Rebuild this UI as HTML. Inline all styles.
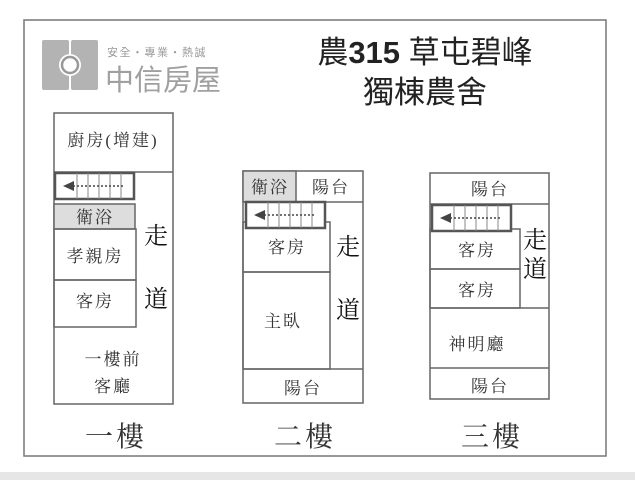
<!DOCTYPE html>
<html><head><meta charset="utf-8"><style>
body{margin:0;width:635px;height:480px;background:#fff;overflow:hidden}
text{font-family:"Liberation Serif","Noto Serif CJK SC",serif;fill:#333}
</style></head><body>
<svg width="635" height="480" xmlns="http://www.w3.org/2000/svg">
<defs>
<g id="st">
<rect x="0" y="0" width="79" height="26" fill="#fff" stroke="#555" stroke-width="2.5"/>
<g stroke="#888" stroke-width="1">
<line x1="22" y1="0" x2="22" y2="26"/><line x1="33" y1="0" x2="33" y2="26"/><line x1="44" y1="0" x2="44" y2="26"/><line x1="55" y1="0" x2="55" y2="26"/><line x1="66" y1="0" x2="66" y2="26"/>
</g>
<line x1="18" y1="13" x2="70" y2="13" stroke="#444" stroke-width="1.5" stroke-dasharray="2,2"/>
<polygon points="8,13 19,8 19,18" fill="#444"/>
</g>
</defs>
<rect x="0" y="472" width="635" height="8" fill="#e6e6e6"/>
<rect x="24" y="20" width="582" height="436" fill="#fff" stroke="#777" stroke-width="1.5"/>
<!-- logo -->
<rect x="42" y="40" width="27" height="50" fill="#b3b3b3" rx="2"/>
<rect x="71" y="40" width="27" height="50" fill="#b3b3b3" rx="2"/>
<rect x="60" y="58" width="20" height="14" fill="#b3b3b3"/>
<circle cx="70" cy="65" r="11" fill="#fff"/>
<circle cx="70" cy="65" r="8" fill="none" stroke="#999" stroke-width="2.5"/>
<text x="107" y="56" font-size="11" style="font-family:'Liberation Sans','Noto Sans CJK TC',sans-serif;fill:#999" letter-spacing="1.5">安全・專業・熱誠</text>
<text x="105" y="90" font-size="29" style="font-family:'Liberation Sans','Noto Sans CJK TC',sans-serif;fill:#a0a0a0">中信房屋</text>
<text x="425" y="63" font-size="31" text-anchor="middle" style="font-family:'Liberation Sans','Noto Sans CJK TC',sans-serif;fill:#222">農<tspan font-weight="bold">315</tspan> 草屯碧峰</text>
<text x="425" y="103" font-size="31" text-anchor="middle" style="font-family:'Liberation Sans','Noto Sans CJK TC',sans-serif;fill:#222">獨棟農舍</text>
<g fill="none" stroke="#666" stroke-width="1.5">
<rect x="54" y="113" width="119" height="291"/>
<line x1="54" y1="172" x2="173" y2="172"/>
<rect x="54" y="204" width="81" height="25" fill="#ddd"/>
<rect x="54" y="229" width="82" height="51"/>
<rect x="54" y="280" width="82" height="47"/>
<rect x="243" y="171" width="120" height="232"/>
<rect x="243" y="171" width="53" height="31" fill="#ddd"/>
<line x1="243" y1="202" x2="363" y2="202"/>
<rect x="243" y="222" width="87" height="50"/>
<rect x="243" y="272" width="87" height="97"/>
<line x1="243" y1="369" x2="363" y2="369"/>
<rect x="430" y="173" width="119" height="226"/>
<line x1="430" y1="204" x2="549" y2="204"/>
<rect x="430" y="229" width="90" height="40"/>
<rect x="430" y="269" width="90" height="39"/>
<line x1="430" y1="308" x2="549" y2="308"/>
<line x1="430" y1="368" x2="549" y2="368"/>
</g>
<use href="#st" x="55" y="173"/>
<use href="#st" x="246" y="202"/>
<use href="#st" x="432" y="205"/>
<g font-size="17" letter-spacing="2">
<text x="113" y="146" text-anchor="middle">廚房(增建)</text>
<text x="95" y="223" text-anchor="middle">衛浴</text>
<text x="95" y="262" text-anchor="middle">孝親房</text>
<text x="95" y="307" text-anchor="middle">客房</text>
<text x="113" y="365" text-anchor="middle">一樓前</text>
<text x="113" y="392" text-anchor="middle">客廳</text>
<text x="270" y="193" text-anchor="middle">衛浴</text>
<text x="331" y="193" text-anchor="middle">陽台</text>
<text x="287" y="253" text-anchor="middle">客房</text>
<text x="283" y="327" text-anchor="middle">主臥</text>
<text x="303" y="394" text-anchor="middle">陽台</text>
<text x="490" y="195" text-anchor="middle">陽台</text>
<text x="477" y="256" text-anchor="middle">客房</text>
<text x="477" y="296" text-anchor="middle">客房</text>
<text x="477" y="350" text-anchor="middle">神明廳</text>
<text x="490" y="392" text-anchor="middle">陽台</text>
</g>
<g font-size="24">
<text x="156" y="244" text-anchor="middle" style="fill:#111">走</text>
<text x="156" y="307" text-anchor="middle" style="fill:#111">道</text>
<text x="348" y="255" text-anchor="middle" style="fill:#111">走</text>
<text x="348" y="318" text-anchor="middle" style="fill:#111">道</text>
<text x="535" y="248" text-anchor="middle" style="fill:#111">走</text>
<text x="535" y="277" text-anchor="middle" style="fill:#111">道</text>
</g>
<g font-size="28" letter-spacing="3">
<text x="116" y="446" text-anchor="middle">一樓</text>
<text x="305" y="446" text-anchor="middle">二樓</text>
<text x="492" y="446" text-anchor="middle">三樓</text>
</g>
</svg>
</body></html>
